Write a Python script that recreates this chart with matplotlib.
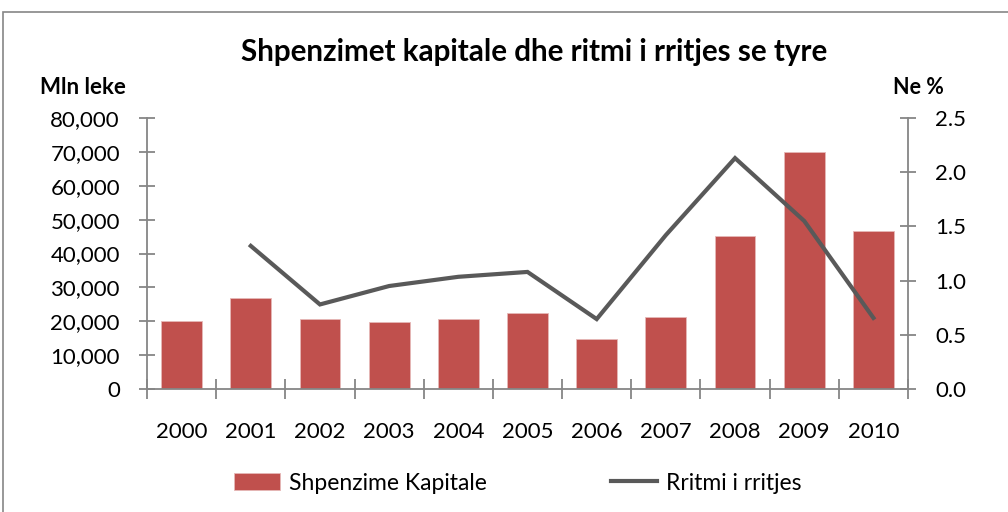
import matplotlib
matplotlib.use("Agg")
import matplotlib.pyplot as plt
from matplotlib.patches import Rectangle
from matplotlib.ticker import FuncFormatter, FixedLocator
import numpy as np

years = ["2000", "2001", "2002", "2003", "2004", "2005", "2006", "2007", "2008", "2009", "2010"]
capital_spending = [20200, 26800, 20800, 19800, 20800, 22400, 14900, 21400, 45100, 69900, 46600]
growth_rate = [np.nan, 1.32, 0.78, 0.95, 1.035, 1.08, 0.645, 1.42, 2.13, 1.55, 0.656]

plt.rcParams['font.family'] = ['Lato', 'DejaVu Sans']

W, H = 1008, 512
fig = plt.figure(figsize=(W / 100, H / 100), dpi=100)

# outer chart border (cropped on right/bottom)
fig.patches.append(Rectangle((3 / W, -0.1), 1.2, 1 - 12 / H + 0.1, transform=fig.transFigure,
                             fill=False, edgecolor='#868686', linewidth=1.2))

ax = fig.add_axes([147 / W, 1 - 389 / H, (908 - 147) / W, (389 - 118) / H])
ax2 = ax.twinx()

x = np.arange(len(years))
bars = ax.bar(x, capital_spending, width=0.59, color='#C0504D', edgecolor='#E6B8B7',
              linewidth=0.6, label='Shpenzime Kapitale', zorder=2)
line, = ax2.plot(x, growth_rate, color='#595959', linewidth=3.0, label='Rritmi i rritjes',
                 solid_joinstyle='miter')

ax.set_xlim(-0.5, len(years) - 0.5)
ax.set_ylim(0, 80000)
ax2.set_ylim(0, 2.5)

ax.set_yticks(np.arange(0, 80001, 10000))
ax.yaxis.set_major_formatter(FuncFormatter(lambda v, p: f"{int(v):,}"))
ax2.set_yticks(np.arange(0, 2.51, 0.5))
ax2.yaxis.set_major_formatter(FuncFormatter(lambda v, p: f"{v:.1f}"))

tick_fs = 16
ax.set_xticks(x)
ax.set_xticklabels(years)
ax.xaxis.set_minor_locator(FixedLocator(np.arange(-0.5, len(years), 1.0)))
ax.tick_params(axis='x', which='major', length=0, pad=24, labelsize=tick_fs)
ax.tick_params(axis='x', which='minor', direction='inout', length=14, color='#868686', width=1.3)
ax.tick_params(axis='y', direction='inout', length=11, color='#868686', width=1.3, pad=14, labelsize=tick_fs)
ax2.tick_params(axis='y', direction='inout', length=11, color='#868686', width=1.3, pad=14, labelsize=tick_fs)

for a in (ax, ax2):
    a.spines['top'].set_visible(False)
    for s in ('left', 'right', 'bottom'):
        a.spines[s].set_color('#868686')
        a.spines[s].set_linewidth(1.3)
ax2.spines['left'].set_visible(False)
ax2.spines['bottom'].set_visible(False)
ax.spines['right'].set_visible(False)

fig.text(534 / W, 1 - 52 / H, "Shpenzimet kapitale dhe ritmi i rritjes se tyre",
         ha='center', va='center', fontsize=21.3, fontweight='bold')
fig.text(40 / W, 1 - 88 / H, "Mln leke", ha='left', va='center', fontsize=16, fontweight='bold')
fig.text(944 / W, 1 - 88 / H, "Ne %", ha='right', va='center', fontsize=15.5, fontweight='bold')

fig.legend([bars, line], ['Shpenzime Kapitale', 'Rritmi i rritjes'], loc='center',
           bbox_to_anchor=(518 / W, 1 - 483 / H), ncol=2, frameon=False, fontsize=16.5,
           handlelength=2.0, handletextpad=0.4, columnspacing=5.4)

fig.savefig("out.png", dpi=100)
